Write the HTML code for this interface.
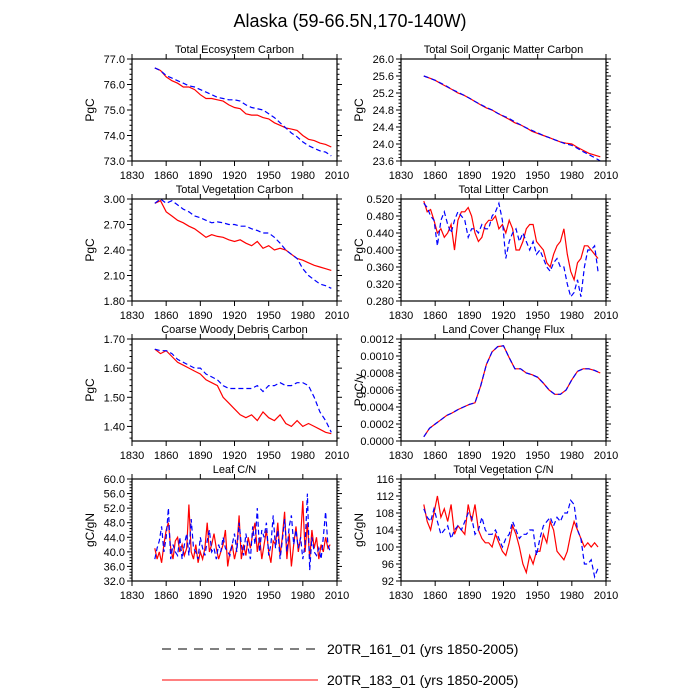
<!DOCTYPE html>
<html><head><meta charset="utf-8"><style>
body{margin:0;background:#fff}
svg{display:block;font-family:"Liberation Sans",sans-serif}
</style></head><body>
<svg id="c" width="700" height="700" viewBox="0 0 700 700">
<text x="350" y="27" text-anchor="middle" font-size="18">Alaska (59-66.5N,170-140W)</text>
<g>
<line x1="162" y1="649" x2="318" y2="649" stroke="#000" stroke-width="1" stroke-dasharray="9,7"/>
<text x="327" y="654" font-size="14">20TR_161_01 (yrs 1850-2005)</text>
<line x1="162" y1="680" x2="318" y2="680" stroke="#f00" stroke-width="1"/>
<text x="327" y="685" font-size="14">20TR_183_01 (yrs 1850-2005)</text>
</g>
</svg>
<script>
const xTicks=[1830,1860,1890,1920,1950,1980,2010];
const tecRed=[76.65,76.55,76.3,76.15,76.05,75.9,75.9,75.8,75.6,75.45,75.45,75.4,75.35,75.2,75.1,75.05,74.85,74.8,74.8,74.7,74.65,74.5,74.4,74.3,74.25,74.2,74.0,73.85,73.8,73.7,73.65,73.55];
const tecBlue=[76.65,76.55,76.35,76.25,76.15,76.05,75.95,75.9,75.8,75.7,75.6,75.5,75.45,75.4,75.4,75.35,75.2,75.1,75.05,75.0,74.85,74.7,74.5,74.3,74.1,73.95,73.75,73.6,73.5,73.4,73.35,73.2];
const somRed=[25.6,25.55,25.5,25.42,25.35,25.28,25.2,25.15,25.08,25.0,24.92,24.85,24.8,24.72,24.65,24.58,24.5,24.45,24.38,24.3,24.25,24.2,24.15,24.1,24.05,24.02,24.0,23.92,23.85,23.78,23.74,23.7];
const somBlue=[25.6,25.55,25.5,25.43,25.36,25.28,25.22,25.15,25.08,25.0,24.93,24.86,24.8,24.72,24.66,24.6,24.52,24.45,24.38,24.32,24.26,24.2,24.15,24.1,24.05,24.0,23.97,23.9,23.82,23.75,23.68,23.6];
const vegRed=[2.95,2.98,2.85,2.80,2.75,2.72,2.68,2.65,2.60,2.55,2.58,2.56,2.55,2.52,2.50,2.52,2.48,2.45,2.50,2.42,2.45,2.40,2.42,2.40,2.35,2.30,2.28,2.25,2.22,2.20,2.18,2.16];
const vegBlue=[2.95,3.00,2.95,2.98,2.93,2.88,2.85,2.80,2.78,2.75,2.72,2.73,2.72,2.70,2.70,2.68,2.68,2.65,2.63,2.60,2.60,2.55,2.48,2.40,2.35,2.30,2.18,2.10,2.05,2.00,1.98,1.95];
const cwdRed=[1.665,1.65,1.66,1.64,1.62,1.61,1.60,1.59,1.58,1.56,1.55,1.54,1.50,1.48,1.46,1.44,1.43,1.44,1.42,1.45,1.43,1.42,1.44,1.41,1.40,1.42,1.40,1.41,1.40,1.39,1.38,1.375];
const cwdBlue=[1.665,1.66,1.66,1.65,1.63,1.62,1.61,1.60,1.60,1.58,1.57,1.56,1.54,1.53,1.53,1.53,1.53,1.53,1.54,1.52,1.54,1.54,1.55,1.54,1.54,1.55,1.55,1.54,1.50,1.45,1.42,1.38];
const lccFlux=[0.00005,0.00015,0.0002,0.00025,0.0003,0.00033,0.00037,0.0004,0.00043,0.00045,0.00065,0.0009,0.00105,0.00111,0.00112,0.00098,0.00085,0.00085,0.0008,0.00078,0.00075,0.00068,0.0006,0.00055,0.00055,0.0006,0.00072,0.00082,0.00085,0.00085,0.00083,0.0008];
const litRed=[.515,.49,.495,.47,.44,.45,.43,.44,.46,.40,.47,.49,.49,.50,.48,.44,.42,.43,.46,.47,.47,.48,.45,.46,.44,.47,.45,.40,.40,.42,.45,.46,.46,.42,.41,.40,.37,.36,.39,.41,.42,.45,.39,.35,.33,.37,.38,.41,.41,.40,.39,.38];
const litBlue=[.51,.50,.48,.47,.41,.47,.49,.46,.44,.47,.49,.48,.47,.43,.45,.45,.44,.46,.45,.45,.48,.49,.51,.47,.38,.42,.44,.45,.42,.44,.42,.40,.42,.39,.40,.38,.36,.35,.37,.38,.36,.36,.32,.29,.30,.33,.29,.36,.40,.40,.41,.35];
const leafRed=[41,38,40,37,42,46,48,41,38,43,44,40,42,39,41,53,40,38,42,37,40,38,41,48,40,42,45,41,38,40,42,46,36,40,42,38,41,50,38,42,39,44,41,45,48,40,44,38,42,46,40,37,43,42,48,39,44,51,38,45,36,42,47,40,44,54,40,48,38,46,41,44,38,42,40,44,41,42];
const leafBlue=[38,41,43,47,40,44,52,38,42,40,39,44,38,42,45,39,49,41,40,38,44,41,39,43,46,40,41,38,42,40,44,41,40,39,42,45,40,48,42,39,45,41,38,47,42,52,40,46,44,48,39,42,50,41,46,38,43,49,40,47,50,42,46,41,44,38,42,56,35,44,40,39,41,38,44,51,42,40];
const vcnRed=[110,106,104,108,112,107,109,106,110,103,105,104,103,110,106,110,104,102,101,101,100,103,101,99,98,101,105,103,100,96,94,98,96,99,99,103,101,106,104,99,98,97,99,103,106,104,102,100,101,100,101,100];
const vcnBlue=[109,107,106,109,106,103,104,105,102,104,105,104,106,108,107,103,104,107,104,103,103,104,102,100,102,103,106,104,102,103,103,104,104,98,102,105,106,107,105,107,106,108,108,111,110,104,102,96,96,97,93,95];

const svg=document.getElementById('c');
const NS='http://www.w3.org/2000/svg';
function mk(tag,attrs,parent){const e=document.createElementNS(NS,tag);for(const k in attrs)e.setAttribute(k,attrs[k]);parent.appendChild(e);return e;}
const yrs=(n,step)=>Array.from({length:n},(_,i)=>1850+i*step);

function panel(o){
  const g=mk('g',{},svg);
  
  
  const x0=o.x,x1=o.x+205,y0=o.y,y1=o.y+102;
  const sx=v=>x0+(v-1830)/180*(x1-x0);
  const sy=v=>y1-(v-o.ymin)/(o.ymax-o.ymin)*(y1-y0);
  const t=mk('text',{x:(x0+x1)/2,y:y0-6,'text-anchor':'middle','font-size':11},g);
  t.textContent=o.title;
  
  
  const yt=mk('text',{x:0,y:0,'text-anchor':'middle','font-size':12,transform:`translate(${x0-38},${(y0+y1)/2}) rotate(-90)`},g);
  yt.textContent=o.ylabel;
  
  
  xTicks.forEach(v=>{
    const X=sx(v);
    mk('line',{x1:X,y1:y1,x2:X,y2:y1+5,stroke:'#000','stroke-width':1},g);
    mk('line',{x1:X,y1:y0,x2:X,y2:y0-5,stroke:'#000','stroke-width':1},g);
    const l=mk('text',{x:X,y:y1+18,'text-anchor':'middle','font-size':11},g);
    l.textContent=v;
    
    
  });
  const base=(o.tick0!==undefined)?o.tick0:o.ymin;
  const minor=o.ystep/5;
  const kStart=Math.ceil((o.ymin-base)/minor-1e-6), kEnd=Math.floor((o.ymax-base)/minor+1e-6);
  for(let k=kStart;k<=kEnd;k++){
    const v=base+k*minor, Y=sy(v), maj=(((k%5)+5)%5===0), len=maj?5:2.5;
    mk('line',{x1:x0,y1:Y,x2:x0-len,y2:Y,stroke:'#000','stroke-width':1},g);
    mk('line',{x1:x1,y1:Y,x2:x1+len,y2:Y,stroke:'#000','stroke-width':1},g);
    if(maj){
      const l=mk('text',{x:x0-7,y:Y+4,'text-anchor':'end','font-size':11},g);
      l.textContent=v.toFixed(o.dec);
      
      
    }
  }
  const cp=mk('clipPath',{id:'cp'+o.name},g);
  mk('rect',{x:x0,y:y0-2,width:x1-x0,height:y1-y0+4},cp);
  const draw=(vals,step,color,dash,nm)=>{
    const xs=yrs(vals.length,step);
    const p=mk('polyline',{points:vals.map((v,i)=>sx(xs[i]).toFixed(1)+','+sy(v).toFixed(1)).join(' '),fill:'none',stroke:color,'stroke-width':1.2,'clip-path':`url(#cp${o.name})`},g);
    if(dash)p.setAttribute('stroke-dasharray','5,3');
    
    
  };
  draw(o.red,o.step,'#f00',false,o.name+'-line-183');
  draw(o.blue,o.step,'#00f',true,o.name+'-line-161');
  const fr=mk('rect',{x:x0,y:y0,width:x1-x0,height:y1-y0,fill:'none',stroke:'#000','stroke-width':1.2},g);
  
  
}
panel({name:'ecosystem-carbon',title:'Total Ecosystem Carbon',ylabel:'PgC',x:132,y:59,ymin:73,ymax:77,ystep:1,dec:1,red:tecRed,blue:tecBlue,step:5});
panel({name:'soil-carbon',title:'Total Soil Organic Matter Carbon',ylabel:'PgC',x:401,y:59,ymin:23.6,ymax:26,ystep:0.4,dec:1,red:somRed,blue:somBlue,step:5});
panel({name:'vegetation-carbon',title:'Total Vegetation Carbon',ylabel:'PgC',x:132,y:199,ymin:1.8,ymax:3.0,ystep:0.3,dec:2,red:vegRed,blue:vegBlue,step:5});
panel({name:'litter-carbon',title:'Total Litter Carbon',ylabel:'PgC',x:401,y:199,ymin:0.28,ymax:0.52,ystep:0.04,dec:3,red:litRed,blue:litBlue,step:3});
panel({name:'cwd-carbon',title:'Coarse Woody Debris Carbon',ylabel:'PgC',x:132,y:339,ymin:1.35,ymax:1.70,ystep:0.1,tick0:1.4,dec:2,red:cwdRed,blue:cwdBlue,step:5});
panel({name:'lcc-flux',title:'Land Cover Change Flux',ylabel:'PgC/y',x:401,y:339,ymin:0,ymax:0.0012,ystep:0.0002,dec:4,red:lccFlux,blue:lccFlux,step:5});
panel({name:'leaf-cn',title:'Leaf C/N',ylabel:'gC/gN',x:132,y:479,ymin:32,ymax:60,ystep:4,dec:1,red:leafRed,blue:leafBlue,step:2});
panel({name:'vegetation-cn',title:'Total Vegetation C/N',ylabel:'gC/gN',x:401,y:479,ymin:92,ymax:116,ystep:4,dec:0,red:vcnRed,blue:vcnBlue,step:3});
</script>
</body></html>
